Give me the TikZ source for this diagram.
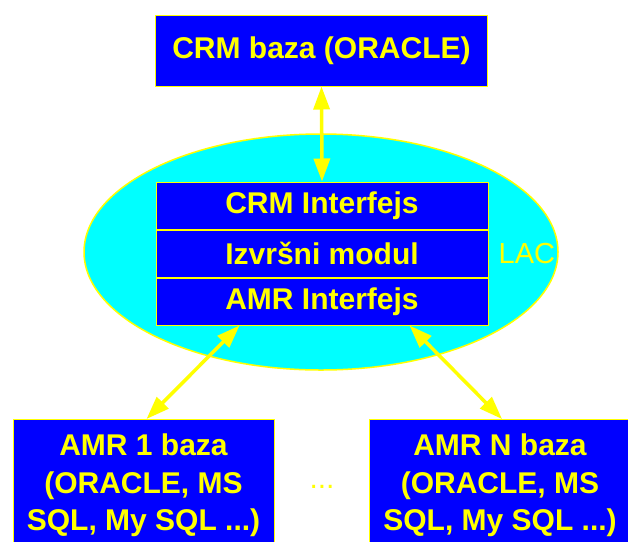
\documentclass[tikz,border=0pt]{standalone}
\usepackage{fontspec}
\setmainfont{Liberation Sans}
\usepackage{tikz}
\usetikzlibrary{arrows.meta, positioning}
\definecolor{lacCyan}{RGB}{0,255,255}
\definecolor{pptYellow}{RGB}{255,255,0}
\definecolor{pptBlue}{RGB}{0,0,255}
\tikzstyle{blueBox} = [draw=pptYellow, line width=1pt, fill=pptBlue, text=pptYellow,
   font=\bfseries\fontsize{30}{37.5}\selectfont, align=center, inner sep=0pt]
\tikzstyle{layer} = [blueBox, minimum width=332pt, minimum height=47pt]
\tikzstyle{amrBox} = [blueBox, minimum width=261pt, minimum height=132pt, anchor=north]
\tikzstyle{lacCloud} = [draw=pptYellow, line width=1.5pt, fill=lacCyan]
\tikzstyle{twoWay} = [pptYellow, line width=3.5pt,
   {Triangle[length=23pt,width=16pt]}-{Triangle[length=23pt,width=16pt]}]

\begin{document}
\begin{tikzpicture}[x=1pt, y=-1pt]
  \path[use as bounding box, clip] (0,0) rectangle (628,541);

  \draw[lacCloud] (321,252) ellipse (237pt and 118pt);

  \node[blueBox, minimum width=332pt, minimum height=71pt] (crm) at (321.5,50.5) {CRM baza (ORACLE)};
  \node[layer] (crmi) at (322,205.5) {CRM Interfejs};
  \node[layer, below=0pt of crmi] (izv) {Izvr\v{s}ni modul};
  \node[layer, below=0pt of izv] (amri) {AMR Interfejs};
  \node[text=pptYellow, inner sep=0pt, font=\fontsize{29}{35}\selectfont,
        right=10pt of izv] (lac) {LAC};
  \node[amrBox] (amr1) at (143.5,419) {AMR 1 baza\\(ORACLE, MS\\SQL, My SQL ...)};
  \node[amrBox] (amrn) at (500,419) {AMR N baza\\(ORACLE, MS\\SQL, My SQL ...)};
  \node[text=pptYellow, inner sep=0pt, font=\fontsize{30}{36}\selectfont] (dots) at (322,487) {...};

  % arrows
  \draw[twoWay] (crm.south) -- (crmi.north);
  \draw[twoWay] ([xshift=84pt]amri.south west) -- ([xshift=3pt]amr1.north);
  \draw[twoWay] ([xshift=-79pt]amri.south east) -- ([xshift=2pt]amrn.north);
\end{tikzpicture}
\end{document}
